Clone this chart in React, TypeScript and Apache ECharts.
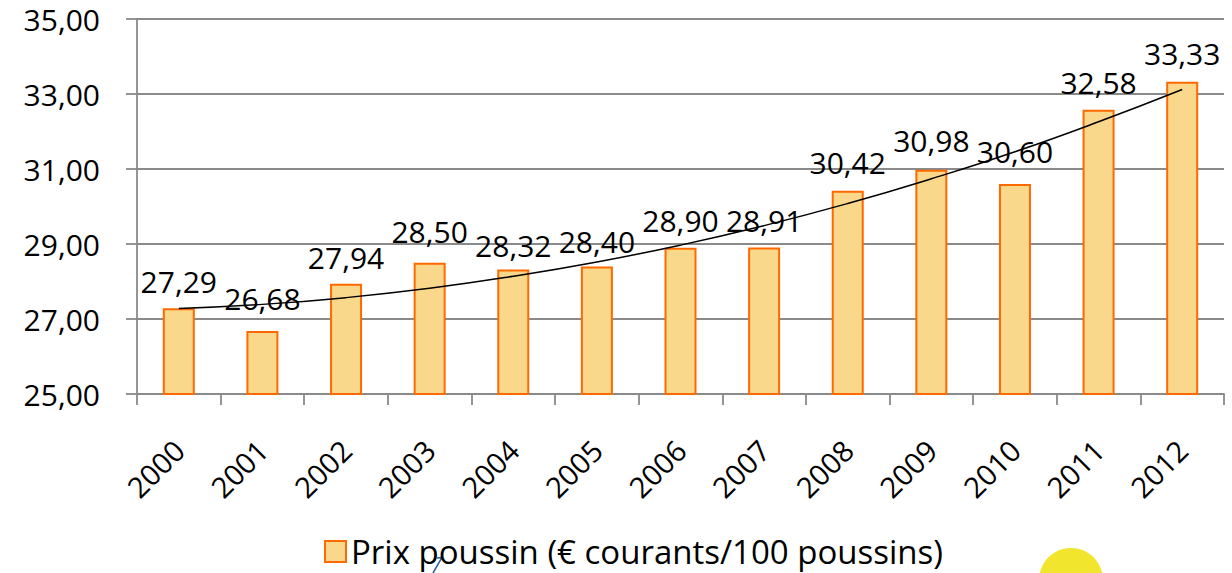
import React, { useEffect, useRef } from "react";
import * as echarts from "echarts";

const years = ["2000", "2001", "2002", "2003", "2004", "2005", "2006", "2007", "2008", "2009", "2010", "2011", "2012"];
const prices = [27.29, 26.68, 27.94, 28.5, 28.32, 28.4, 28.9, 28.91, 30.42, 30.98, 30.6, 32.58, 33.33];
const trend = [27.28, 27.39, 27.57, 27.82, 28.14, 28.52, 28.97, 29.49, 30.08, 30.74, 31.46, 32.26, 33.12];
const seriesName = "Prix poussin (€ courants/100 poussins)";
const yMin = 25;
const yMax = 35;
const yStep = 2;

const FONT = "Open Sans";
const fmt = (v: number) => v.toFixed(2).replace(".", ",");

export default function App() {
  const ref = useRef<HTMLDivElement>(null);
  useEffect(() => {
    if (!ref.current) return;
    const chart = echarts.init(ref.current, null, { renderer: "svg" });
    const lift = [12, 18, 11, 16, 9, 10, 12, 12, 13, 14, 18, 12, 13];
    const gray = "#8a8a8a";
    chart.setOption({
      animation: false,
      backgroundColor: "#ffffff",
      textStyle: { fontFamily: FONT },
      grid: { left: 137, right: 8, top: 19, bottom: 179, containLabel: false },
      legend: {
        data: [seriesName],
        left: 319,
        top: 530,
        itemWidth: 21,
        itemHeight: 21,
        icon: "rect",
        textStyle: { fontSize: 33, color: "#000", fontFamily: FONT },
      },
      xAxis: {
        type: "category",
        data: years,
        boundaryGap: true,
        axisLine: { show: true, lineStyle: { color: gray, width: 1.8 } },
        axisTick: { show: true, length: 11, alignWithLabel: false, lineStyle: { color: gray, width: 1.8 } },
        axisLabel: { rotate: 45, margin: 51, fontSize: 29, color: "#000", fontFamily: FONT, interval: 0 },
        splitLine: { show: false },
      },
      yAxis: {
        type: "value",
        min: yMin,
        max: yMax,
        interval: yStep,
        axisLine: { show: true, lineStyle: { color: gray, width: 1.8 } },
        axisTick: { show: true, length: 11, lineStyle: { color: gray, width: 1.8 } },
        axisLabel: {
          margin: 37,
          fontSize: 30,
          color: "#000",
          fontFamily: FONT,
          padding: [8, 0, 0, 0],
          formatter: (v: number) => fmt(v),
        },
        splitLine: { show: true, lineStyle: { color: gray, width: 1.8 } },
      },
      series: [
        {
          name: seriesName,
          type: "bar",
          barWidth: 32,
          data: prices.map((v, i) => ({ value: v, label: { distance: lift[i] } })),
          itemStyle: { color: "#f9d88b", borderColor: "#ff6a00", borderWidth: 2 },
          label: {
            show: true,
            position: "top",
            fontSize: 30,
            color: "#000",
            fontFamily: FONT,
            formatter: (p: any) => fmt(p.value),
          },
          z: 2,
        },
        {
          name: "trend",
          type: "line",
          data: trend,
          smooth: true,
          symbol: "none",
          lineStyle: { color: "#000", width: 1.5 },
          z: 3,
        },
      ],
      graphic: [
        {
          type: "circle",
          shape: { cx: 1071, cy: 580, r: 32 },
          style: { fill: "#f2e52e" },
          silent: true,
        },
        {
          type: "polyline",
          shape: { points: [[437, 558], [442, 557.5], [433, 573]] },
          style: { stroke: "#2a5caa", lineWidth: 1.5, fill: "none" },
          silent: true,
        },
      ],
    });
    return () => chart.dispose();
  }, []);
  return (
    <div
      ref={ref}
      style={{ position: "fixed", left: 0, top: 0, width: 1232, height: 573, background: "#fff" }}
    />
  );
}
